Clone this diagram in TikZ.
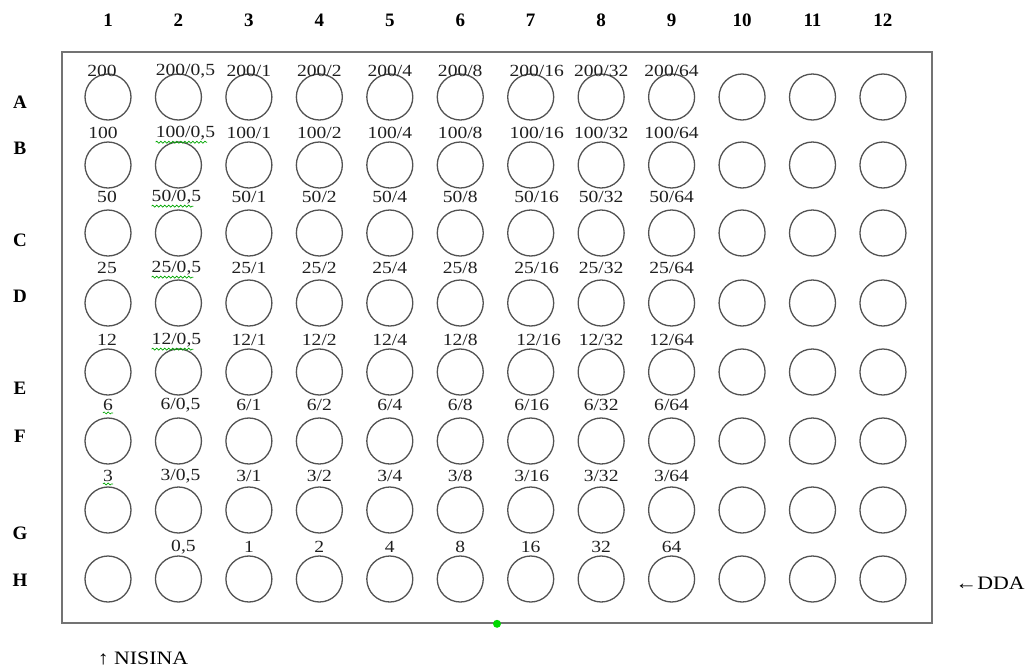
\documentclass[tikz,border=0pt]{standalone}
\usepackage{fontspec}
\setmainfont{Liberation Serif}
\newfontfamily\platefont[FakeStretch=1.15]{Liberation Serif}
\usetikzlibrary{decorations.pathmorphing}
\tikzset{node distance=2.0cm, auto}

\begin{document}
\begin{tikzpicture}[
  x=1pt, y=-1pt,
  well/.style={circle, draw=black!68, line width=1.3pt, minimum size=46pt, inner sep=0pt},
  conc/.style={font=\fontsize{17}{19}\platefont, text=black!88, inner sep=0pt},
  head/.style={font=\fontsize{19}{21}\selectfont\bfseries, inner sep=0pt},
  note/.style={font=\fontsize{19}{21}\platefont, inner sep=0pt},
  spell/.style={draw=green!65!black, line width=0.7pt, decorate,
    decoration={snake, amplitude=1pt, segment length=4pt}}
]
\useasboundingbox (0,0) rectangle (1026,670);

% plate outline
\node[draw=black!55, line width=1.6pt, minimum width=870pt, minimum height=571pt] (plate) at (497,337.5) {};

% column numbers and row letters
\foreach \j in {1,...,12}
  \node[head] (col\j) at ({108+70.45*(\j-1)}, 20) {\j};
\foreach \r/\ly in {A/102, B/148, C/240, D/296, E/388, F/436, G/533, H/580}
  \node[head] (row\r) at (20,\ly) {\r};

% wells
\foreach \r/\y in {A/97, B/165, C/233, D/303, E/372, F/441, G/510, H/579}
  \foreach \j in {1,...,12}
    \node[well] (\r\j) at ({108+70.45*(\j-1)}, \y) {};

% concentrations (row, start, label y, x of first, shift col 2, shift col 7)
\foreach \r/\c/\ly/\fx/\sa/\sb in {A/200/71/102/7/6, B/100/133/103/7/6, C/50/197/107/-2/6,
    D/25/268/107/-2/6, E/12/340/107/-2/8, F/6/405/108/2/1, G/3/476/108/2/1} {
  \node[conc] (l\r1) at (\fx,\ly) {\c};
  \foreach \d [count=\k from 2] in {0{,}5,1,2,4,8,16,32,64}
    \node[conc] (l\r\k) at ({108+70.45*(\k-1)+(\k==2)*(\sa)+(\k==7)*(\sb)}, \ly) {\c/\d};
}
\foreach \d [count=\k from 2] in {0{,}5,1,2,4,8,16,32,64}
  \node[conc] (lH\k) at ({108+70.45*(\k-1)+(\k==2)*5}, 547) {\d};

% spell-check marks
\foreach \n in {lB2, lC2, lD2, lE2}
  \draw[spell] ([yshift=-2pt]\n.south west) -- ([xshift=-8pt, yshift=-2pt]\n.south east);
\foreach \n in {lF1, lG1}
  \draw[spell] ([yshift=-2pt]\n.south west) -- ([yshift=-2pt]\n.south east);
\node[circle, fill=green!85!black, minimum size=8pt, inner sep=0pt] (dot) at (plate.south) {};

\node[note] (dda) at (990,583) {←DDA};
\node[note] (nisina) at (143,658) {↑ NISINA};
\end{tikzpicture}
\end{document}
